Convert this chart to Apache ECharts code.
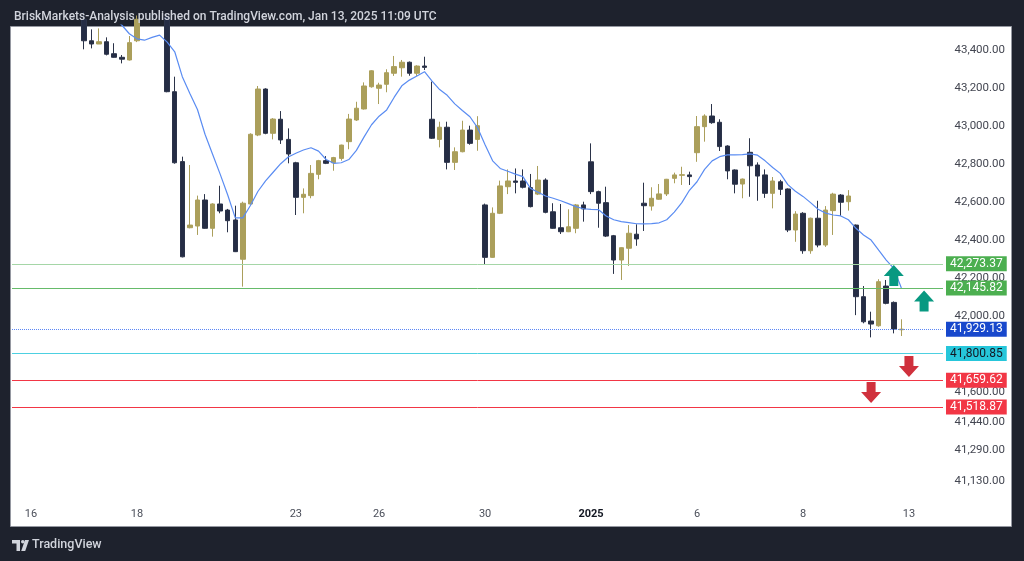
<!DOCTYPE html>
<html><head><meta charset="utf-8">
<script src="https://cdn.jsdelivr.net/npm/echarts@6/dist/echarts.min.js"></script>
<style>html,body{margin:0;padding:0;background:#1e222d;}#c{width:1024px;height:561px;}</style>
</head><body><div id="c"></div>
<script>
// ---- data ----
const dayLabels  = ['16','17','18','19','20','23','24','26','27','30','31','2025','3','6','7','8','10','13'];
const dayCandles = [7,7,7,7,7,7,4,7,7,7,7,7,7,7,7,7,7,0];
const shownDayLabels = ['16','18','23','26','30','2025','6','8','13'];

const opens = [43840,43810,43780,43740,43760,43750,43720, 43560,43447,43430,43442,43379,43360,43346, 43447,43560,43600,43580,43570,43179,42811, 42463,42472,42609,42460,42588,42556,42504, 42297,42588,42951,43193,42960,43034,42928, 42805,42623,42632,42744,42816,42805,42828, 42916,43030,43088,43205, 43197,43218,43276,43305,43334,43276,43314, 43034,42928,42992,42807,42863,42977,42928, 42583,42307,42539,42679,42709,42709,42674, 42640,42714,42547,42463,42442,42460,42583, 42810,42653,42595,42421,42293,42355,42429, 42592,42577,42613,42641,42723,42739,42741, 42858,42995,43051,43018,42893,42767,42693, 42860,42793,42741,42644,42705,42667,42451, 42539,42342,42513,42372,42553,42635,42600, 42477,42100,41972,41947,42156,42070,41926];
const highs = [43880,43830,43800,43770,43790,43770,43740, 43600,43507,43512,43465,43434,43372,43472, 43580,43610,43620,43600,43590,43258,42837, 42793,42632,42640,42592,42684,42562,42579, 42600,42960,43209,43197,43040,43077,42986, 42810,42670,42793,42820,42840,42836,42900, 43062,43126,43228,43292, 43226,43297,43367,43346,43338,43318,43363, 43232,43021,43021,42886,43026,43000,43050, 42590,42570,42711,42770,42775,42770,42746, 42788,42723,42592,42588,42560,42588,42600, 42907,42658,42679,42425,42360,42477,42481, 42700,42676,42693,42720,42753,42784,42758, 43051,43060,43114,43034,42897,42770,42722, 42934,42807,42770,42730,42715,42670,42550, 42545,42516,42605,42577,42647,42640,42661, 42480,42156,42021,42192,42188,42075,41981];
const lows = [43790,43760,43720,43700,43730,43700,43680, 43402,43407,43430,43370,43358,43328,43343, 43440,43545,43550,43545,43176,42800,42307, 42460,42425,42458,42416,42539,42439,42335, 42153,42585,42945,42955,42928,42904,42802, 42530,42539,42618,42718,42798,42763,42816, 42876,43025,43085,43200, 43114,43176,43262,43258,43263,43262,43293, 42930,42886,42770,42767,42860,42900,42868, 42270,42305,42535,42640,42644,42670,42570, 42635,42539,42458,42430,42440,42434,42495, 42640,42463,42414,42220,42188,42262,42368, 42446,42553,42610,42630,42697,42688,42688, 42810,42916,43010,42867,42718,42644,42618, 42626,42605,42620,42565,42635,42440,42389, 42326,42326,42360,42362,42425,42525,42553, 42003,41960,41886,41942,42060,41907,41893];
const closes = [43810,43780,43740,43760,43750,43720,43700, 43447,43430,43442,43376,43360,43350,43437, 43560,43600,43580,43570,43179,42805,42310, 42477,42609,42460,42588,42551,42500,42337, 42592,42955,43193,42960,43035,42925,42851, 42623,42639,42749,42816,42802,42832,42898, 43035,43092,43209,43289, 43214,43279,43311,43334,43276,43314,43307, 42934,42992,42807,42863,42977,42907,43000, 42307,42539,42683,42709,42702,42676,42574, 42714,42544,42460,42442,42468,42583,42562, 42653,42592,42419,42293,42358,42434,42404, 42579,42618,42641,42718,42741,42742,42732, 42995,43051,43016,42890,42762,42692,42719, 42789,42735,42644,42709,42665,42451,42535, 42342,42513,42372,42556,42640,42597,42630, 42100,41968,41956,42179,42065,41930,41929.13];

const emaStart = 7;
const emaValues = [43720,43680,43640,43600,43565,43530,43484, 43457,43450,43465,43477,43440,43389,43258, 43170,43085,42955,42850,42745,42635,42515, 42515,42580,42655,42710,42755,42800,42835, 42855,42872,42884,42866,42822,42802,42805, 42822,42870,42940,43005, 43050,43083,43150,43210,43240,43262,43284, 43235,43190,43160,43115,43080,43047,42990, 42900,42815,42775,42760,42745,42732,42670, 42650,42630,42618,42605,42590,42574,42563, 42560,42558,42525,42505,42495,42490,42484, 42483,42485,42489,42505,42545,42595,42660, 42705,42770,42815,42837,42846,42846,42848, 42852,42845,42815,42780,42749,42690,42655, 42628,42595,42560,42540,42530,42525,42505, 42460,42425,42398,42345,42293,42249,42146];

const levelValues = [42273.37, 42145.82, 41929.13, 41800.85, 41659.62, 41518.87];
const priceTicks = [43400,43200,43000,42800,42600,42400,42200,42000,41600,41440,41290,41130];

// arrows: [candle index, price, direction]
const arrowIdx    = [114, 118, 116, 111];
const arrowPrice  = [42212, 42078, 41733, 41596];
const arrowDir    = ['up','up','down','down'];

const titleText = 'BriskMarkets-Analysis published on TradingView.com, Jan 13, 2025 11:09 UTC';

// ---- build ----
const PAD_BEFORE = 2, TOTAL = 123;
const cats = [], labelAt = {};
for (let k = 0; k < TOTAL; k++) cats.push('c' + k);
let idx = 0;
dayLabels.forEach((d, j) => {
  if (shownDayLabels.includes(d)) labelAt[idx + PAD_BEFORE] = d;
  idx += dayCandles[j];
});
const candleData = cats.map((c, k) => {
  const i = k - PAD_BEFORE;
  return (i >= 0 && i < opens.length) ? [opens[i], closes[i], lows[i], highs[i]] : '-';
});
const emaData = cats.map((c, k) => {
  const i = k - PAD_BEFORE - emaStart;
  return (i >= 0 && i < emaValues.length) ? emaValues[i] : '-';
});
const fmt = v => Number(v).toLocaleString('en-US', {minimumFractionDigits: 2, maximumFractionDigits: 2});

const levelStyles = [
  {line: '#a5d6a7', bg: '#4caf50', fg: '#ffffff', type: 'solid'},
  {line: '#66bb6a', bg: '#4caf50', fg: '#ffffff', type: 'solid'},
  {line: '#5b86f5', bg: '#1848cc', fg: '#ffffff', type: 'dotted'},
  {line: '#4dd0e1', bg: '#26c6da', fg: '#131722', type: 'solid'},
  {line: '#f23645', bg: '#f23645', fg: '#ffffff', type: 'solid'},
  {line: '#f23645', bg: '#f23645', fg: '#ffffff', type: 'solid'}
];
const upPath = 'path://M10,0 L20,11 L14.5,11 L14.5,21 L5.5,21 L5.5,11 L0,11 Z';
const downPath = 'path://M5.5,0 L14.5,0 L14.5,10 L20,10 L10,21 L0,10 L5.5,10 Z';

const FONT = 'Roboto, "Noto Sans", sans-serif';
const chart = echarts.init(document.getElementById('c'), null, {renderer: 'canvas'});
chart.setOption({
  backgroundColor: '#1e222d',
  animation: false,
  textStyle: {fontFamily: FONT},
  title: {
    text: titleText, left: 9, top: 6,
    textStyle: {color: '#d1d4dc', fontSize: 12, fontWeight: 500, fontFamily: FONT}
  },
  graphic: [
    {type: 'rect', z: -10, silent: true, shape: {x: 10.5, y: 26.5, width: 1001, height: 500},
     style: {fill: '#ffffff', stroke: '#9598a1', lineWidth: 1}},
    {type: 'polygon', silent: true, shape: {points: [[12,540],[20,540],[20,551],[16.5,551],[16.5,543.5],[12,543.5]]}, style: {fill: '#d1d4dc'}},
    {type: 'circle', silent: true, shape: {cx: 22.8, cy: 541.8, r: 1.8}, style: {fill: '#d1d4dc'}},
    {type: 'polygon', silent: true, shape: {points: [[25,540],[29,540],[25.2,551],[21.2,551]]}, style: {fill: '#d1d4dc'}},
    {type: 'text', silent: true, left: 32, top: 538,
     style: {text: 'TradingView', fill: '#d1d4dc', font: '500 12.5px ' + FONT}}
  ],
  grid: {left: 12, top: 25, width: 931, height: 475, containLabel: false},
  xAxis: {
    type: 'category', data: cats, boundaryGap: true,
    axisLine: {show: false}, axisTick: {show: false}, splitLine: {show: false},
    axisLabel: {
      interval: (i) => labelAt[i] !== undefined,
      formatter: (v, i) => {
        const l = labelAt[i];
        if (l === undefined) return '';
        return l === '2025' ? '{b|2025}' : l;
      },
      color: '#4a4e59', fontSize: 11, margin: 9, fontFamily: FONT,
      rich: {b: {fontWeight: 'bold', color: '#131722', fontSize: 11, fontFamily: FONT}}
    }
  },
  yAxis: {
    type: 'value', position: 'right', min: 41030, max: 43530, interval: 10,
    axisLine: {show: false}, axisTick: {show: false}, splitLine: {show: false},
    axisLabel: {
      formatter: v => priceTicks.includes(Math.round(v)) ? fmt(Math.round(v)) : '',
      color: '#434651', fontSize: 11.5, align: 'right', margin: 62, fontFamily: FONT
    }
  },
  series: [
    {
      type: 'candlestick', data: candleData, barWidth: 5, clip: true,
      itemStyle: {color: '#ab9f5b', color0: '#252d45', borderColor: '#ab9f5b', borderColor0: '#2b3349', borderWidth: 1},
      markLine: {
        silent: true, symbol: ['none', 'none'], animation: false,
        data: levelValues.map((v, i) => ({
          yAxis: v,
          lineStyle: {color: levelStyles[i].line, width: 1, type: levelStyles[i].type},
          label: {
            show: true, position: 'end', distance: 3, formatter: () => fmt(v),
            color: levelStyles[i].fg, backgroundColor: levelStyles[i].bg,
            fontSize: 12, fontFamily: FONT, padding: [2, 4, 1, 4], lineHeight: 12
          }
        }))
      }
    },
    {
      type: 'line', data: emaData, showSymbol: false, symbol: 'none', smooth: false, clip: true,
      lineStyle: {color: '#5a8cf2', width: 1.2}, z: 3,
      markPoint: {
        silent: true, animation: false,
        data: arrowIdx.map((ci, j) => ({
          coord: ['c' + (ci + PAD_BEFORE), arrowPrice[j]],
          symbol: arrowDir[j] === 'up' ? upPath : downPath,
          symbolSize: [20, 21], symbolKeepAspect: false,
          itemStyle: {color: arrowDir[j] === 'up' ? '#089981' : '#d0313d'},
          label: {show: false}
        }))
      }
    }
  ]
});
</script></body></html>
